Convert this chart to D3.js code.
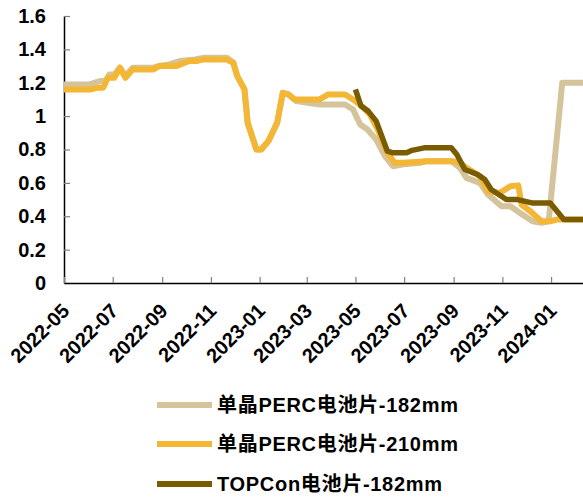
<!DOCTYPE html>
<html><head><meta charset="utf-8">
<script src="https://cdn.jsdelivr.net/npm/d3@7"></script>
<style>
html,body{margin:0;padding:0;background:#fff;}
svg{display:block;}
text{font-family:"Liberation Sans",Arial,"Noto Sans CJK SC",sans-serif;font-weight:bold;fill:#000;}
</style></head>
<body>
<svg id="chart" width="583" height="497"></svg>
<script>
const seriesNames = ["单晶PERC电池片-182mm", "单晶PERC电池片-210mm", "TOPCon电池片-182mm"];
const seriesColors = ["#D5C49B", "#F4B735", "#7A5C00"];

const perc182Dates = ["2022-05-01","2022-06-02","2022-06-15","2022-06-22","2022-06-27","2022-07-03","2022-07-10","2022-07-17","2022-07-26","2022-08-21","2022-08-28","2022-09-10","2022-09-23","2022-10-12","2022-10-24","2022-11-21","2022-11-29","2022-12-04","2022-12-13","2022-12-17","2022-12-28","2023-01-03","2023-01-12","2023-01-23","2023-01-30","2023-02-06","2023-02-16","2023-03-17","2023-04-18","2023-04-28","2023-05-07","2023-05-16","2023-05-27","2023-06-07","2023-06-17","2023-06-28","2023-07-21","2023-07-29","2023-08-29","2023-09-09","2023-09-17","2023-10-04","2023-10-14","2023-10-31","2023-11-11","2023-11-23","2023-12-09","2023-12-20","2023-12-29","2024-01-15","2024-02-10"];
const perc182Values = [1.19,1.19,1.21,1.21,1.25,1.25,1.29,1.24,1.29,1.29,1.30,1.31,1.33,1.34,1.35,1.35,1.32,1.24,1.16,0.96,0.80,0.80,0.85,0.96,1.14,1.13,1.09,1.07,1.07,1.04,0.95,0.92,0.86,0.76,0.70,0.71,0.72,0.73,0.73,0.69,0.63,0.60,0.53,0.46,0.46,0.42,0.37,0.36,0.37,1.20,1.20];

const perc210Dates = ["2022-05-01","2022-06-04","2022-06-11","2022-06-19","2022-06-25","2022-07-03","2022-07-10","2022-07-17","2022-07-26","2022-08-21","2022-08-28","2022-09-19","2022-10-05","2022-10-14","2022-10-22","2022-11-20","2022-11-29","2022-12-04","2022-12-13","2022-12-17","2022-12-28","2023-01-03","2023-01-12","2023-01-23","2023-01-30","2023-02-06","2023-02-14","2023-02-27","2023-03-17","2023-03-28","2023-04-18","2023-04-28","2023-05-09","2023-05-19","2023-05-29","2023-06-09","2023-06-19","2023-06-30","2023-07-29","2023-08-31","2023-09-09","2023-09-17","2023-10-04","2023-10-14","2023-10-29","2023-11-11","2023-11-21","2023-11-25","2023-12-06","2023-12-20","2023-12-31","2024-01-08","2024-02-10"];
const perc210Values = [1.16,1.16,1.17,1.17,1.23,1.23,1.29,1.23,1.28,1.28,1.30,1.30,1.33,1.33,1.34,1.34,1.32,1.24,1.16,0.96,0.80,0.80,0.85,0.96,1.14,1.13,1.10,1.10,1.10,1.13,1.13,1.10,1.06,1.01,0.92,0.79,0.72,0.72,0.73,0.73,0.72,0.69,0.64,0.55,0.54,0.58,0.585,0.47,0.43,0.37,0.37,0.38,0.38];

const topconDates = ["2023-05-01","2023-05-08","2023-05-17","2023-05-27","2023-06-03","2023-06-10","2023-06-17","2023-07-04","2023-07-11","2023-07-26","2023-08-29","2023-09-05","2023-09-15","2023-10-01","2023-10-10","2023-10-18","2023-11-06","2023-11-20","2023-12-08","2023-12-31","2024-01-17","2024-02-10"];
const topconValues = [1.16,1.06,1.03,0.97,0.88,0.79,0.78,0.78,0.795,0.81,0.81,0.77,0.68,0.65,0.62,0.56,0.50,0.50,0.48,0.48,0.38,0.38];

const xTickLabels = ["2022-05","2022-07","2022-09","2022-11","2023-01","2023-03","2023-05","2023-07","2023-09","2023-11","2024-01"];
const yTickValues = [0,0.2,0.4,0.6,0.8,1,1.2,1.4,1.6];
const xDomain = ["2022-05-01","2024-02-10"];

const parse = d3.timeParse("%Y-%m-%d");
const parseM = d3.timeParse("%Y-%m");
const svg = d3.select("#chart");

const x = d3.scaleTime().domain(xDomain.map(parse)).range([64, 583]);
const y = d3.scaleLinear().domain([0, 1.6]).range([283, 16]);

const series = [
  {name: seriesNames[0], color: seriesColors[0], width: 6, data: perc182Dates.map((d,i)=>({d: parse(d), v: perc182Values[i]}))},
  {name: seriesNames[1], color: seriesColors[1], width: 6, data: perc210Dates.map((d,i)=>({d: parse(d), v: perc210Values[i]}))},
  {name: seriesNames[2], color: seriesColors[2], width: 5.5, data: topconDates.map((d,i)=>({d: parse(d), v: topconValues[i]}))}
];

// Y axis
const yAxis = d3.axisLeft(y).tickValues(yTickValues).tickFormat(d3.format("~g")).tickSizeInner(-6).tickSizeOuter(0).tickPadding(18);
const gy = svg.append("g").attr("transform", "translate(64,0)").call(yAxis);
gy.select(".domain").attr("stroke", "#000").attr("stroke-width", 1.5);
gy.selectAll(".tick line").attr("stroke", "#808080").attr("stroke-width", 1.2);
gy.selectAll(".tick text").style("font-size", "20px").attr("fill", "#000");

// X axis
const xAxis = d3.axisBottom(x).tickValues(xTickLabels.map(parseM)).tickFormat(d3.timeFormat("%Y-%m")).tickSizeInner(-6).tickSizeOuter(0);
const gx = svg.append("g").attr("transform", "translate(0,283)").call(xAxis);
gx.select(".domain").attr("stroke", "#000").attr("stroke-width", 1.5);
gx.selectAll(".tick line").attr("stroke", "#808080").attr("stroke-width", 1.2);
gx.selectAll(".tick text")
  .style("font-size", "20px")
  .attr("text-anchor", "end")
  .attr("dy", null)
  .attr("y", 0)
  .attr("transform", "translate(-4,19) rotate(-45)")
  .attr("dominant-baseline", "hanging");

// Lines
const line = d3.line().x(d => x(d.d)).y(d => y(d.v));
svg.append("g").selectAll("path").data(series).join("path")
  .attr("d", s => line(s.data))
  .attr("fill", "none")
  .attr("stroke", s => s.color)
  .attr("stroke-width", s => s.width)
  .attr("stroke-linejoin", "round")
  .attr("stroke-linecap", "butt");

// Legend
const legendY = [405, 444, 484];
const lg = svg.append("g").selectAll("g").data(series).join("g")
  .attr("transform", (s,i) => `translate(157,${legendY[i]})`);
lg.append("line").attr("x1", 0).attr("x2", 55).attr("y1", 0).attr("y2", 0)
  .attr("stroke", s => s.color).attr("stroke-width", 6);
lg.append("text").attr("x", 60).attr("y", 0).attr("dy", "0.36em")
  .style("font-size", "20px").style("letter-spacing", "0.7px").text(s => s.name);
</script>
</body></html>
